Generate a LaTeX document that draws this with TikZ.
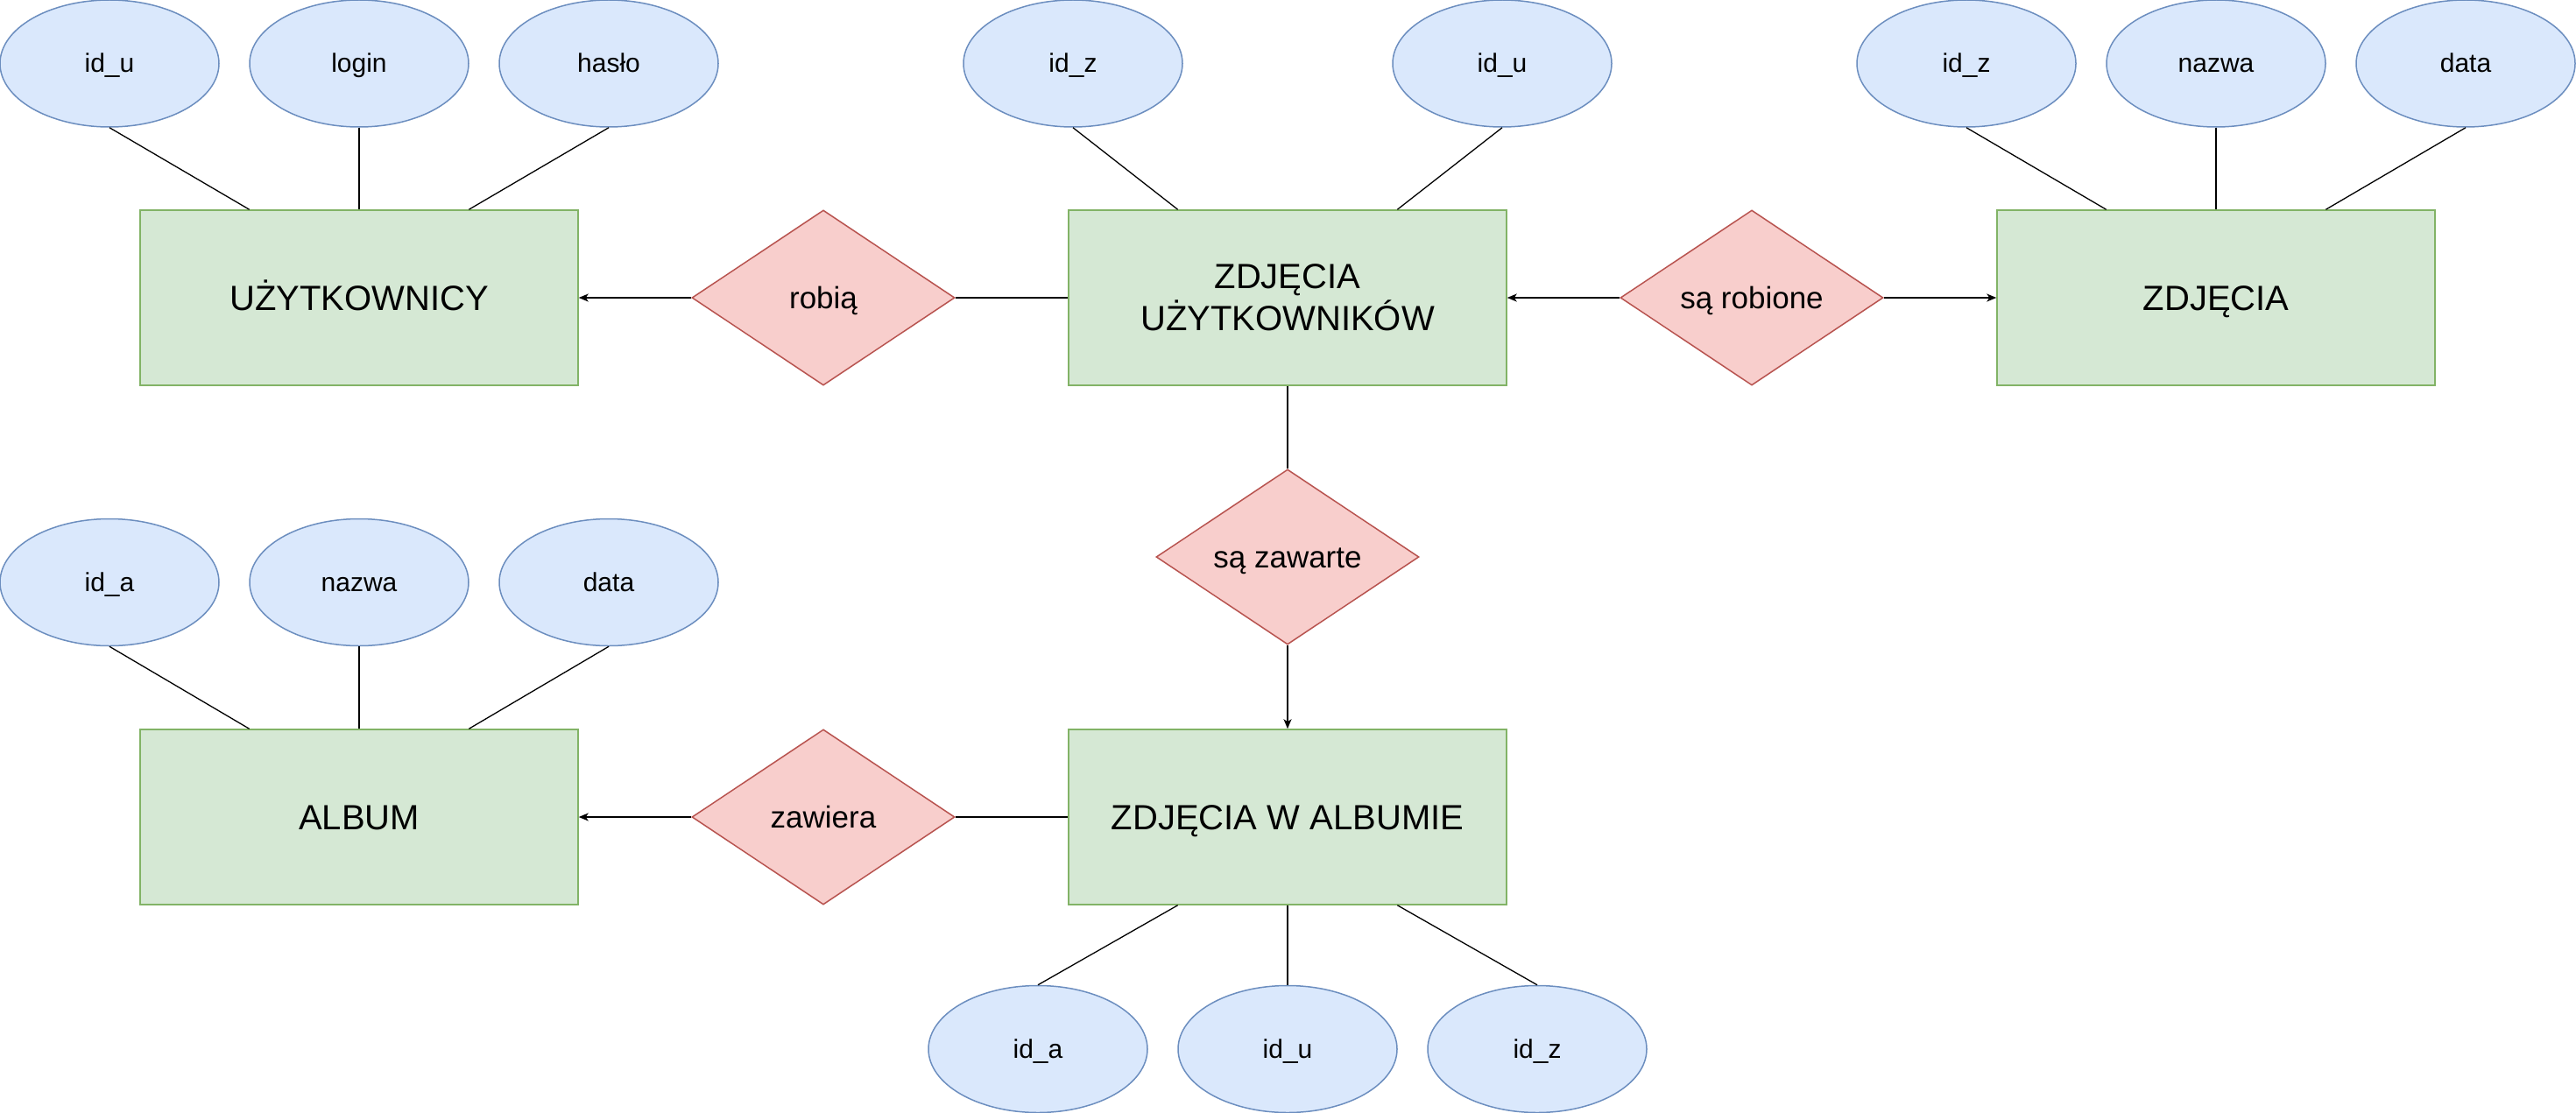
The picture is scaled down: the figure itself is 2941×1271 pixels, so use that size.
\documentclass[tikz,border=0pt]{standalone}
\usepackage{fontspec}
\setmainfont{Liberation Sans}
\usetikzlibrary{shapes.geometric,arrows.meta,calc}
\definecolor{attrfill}{HTML}{DAE8FC}
\definecolor{attrline}{HTML}{6C8EBF}
\definecolor{entfill}{HTML}{D5E8D4}
\definecolor{entline}{HTML}{82B366}
\definecolor{relfill}{HTML}{F8CECC}
\definecolor{relline}{HTML}{B85450}
\tikzset{
  oneline/.style={text height=#1, text depth=0pt},
  attr/.style={ellipse, draw=attrline, fill=attrfill, line width=1.5pt, inner sep=0pt,
    minimum width=250pt, minimum height=145pt, font=\fontsize{30}{36}\selectfont, oneline=21pt},
  entity/.style={rectangle, draw=entline, fill=entfill, line width=1.5pt, inner sep=0pt,
    minimum width=500pt, minimum height=200pt, align=center, font=\fontsize{40}{48}\selectfont},
  rel/.style={diamond, draw=relline, fill=relfill, line width=1.5pt, inner sep=0pt,
    minimum width=300pt, minimum height=200pt},
  rellabel/.style={font=\fontsize{35}{42}\selectfont, oneline=24.5pt},
  conn/.style={draw=black, line width=1.3pt},
  arr/.style={conn, -{Stealth[length=11pt,width=9pt,inset=3pt]}}
}
\begin{document}
\begin{tikzpicture}[x=1pt,y=-1pt]
\useasboundingbox (0,0) rectangle (2941,1271);
% entities
\node[entity, oneline=28pt] (uzyt) at (410,340) {UŻYTKOWNICY};
\node[entity] (zu) at (1470,340) {ZDJĘCIA\\UŻYTKOWNIKÓW};
\node[entity, oneline=28pt] (zdj) at (2530,340) {ZDJĘCIA};
\node[entity, oneline=28pt] (album) at (410,933) {ALBUM};
\node[entity, oneline=28pt] (zwa) at (1470,933) {ZDJĘCIA W ALBUMIE};
% relationships
\node[rel, label={[rellabel]center:robią}] (robia) at (940,340) {};
\node[rel, label={[rellabel]center:są robione}] (saro) at (2000,340) {};
\node[rel, label={[rellabel]center:są zawarte}] (sazaw) at (1470,636) {};
\node[rel, label={[rellabel]center:zawiera}] (zawiera) at (940,933) {};
% attributes
\node[attr] (u1) at (125,72.5) {id\_u};
\node[attr] (u2) at (410,72.5) {login};
\node[attr] (u3) at (695,72.5) {hasło};
\node[attr] (zu1) at (1225,72.5) {id\_z};
\node[attr] (zu2) at (1715,72.5) {id\_u};
\node[attr] (z1) at (2245,72.5) {id\_z};
\node[attr] (z2) at (2530,72.5) {nazwa};
\node[attr] (z3) at (2815,72.5) {data};
\node[attr] (a1) at (125,665) {id\_a};
\node[attr] (a2) at (410,665) {nazwa};
\node[attr] (a3) at (695,665) {data};
\node[attr] (w1) at (1185,1198) {id\_a};
\node[attr] (w2) at (1470,1198) {id\_u};
\node[attr] (w3) at (1755,1198) {id\_z};
% attribute connectors
\draw[conn] (u1.south) -- ($(uzyt.north west)!0.25!(uzyt.north east)$);
\draw[conn] (u2.south) -- (uzyt.north);
\draw[conn] (u3.south) -- ($(uzyt.north west)!0.75!(uzyt.north east)$);
\draw[conn] (zu1.south) -- ($(zu.north west)!0.25!(zu.north east)$);
\draw[conn] (zu2.south) -- ($(zu.north west)!0.75!(zu.north east)$);
\draw[conn] (z1.south) -- ($(zdj.north west)!0.25!(zdj.north east)$);
\draw[conn] (z2.south) -- (zdj.north);
\draw[conn] (z3.south) -- ($(zdj.north west)!0.75!(zdj.north east)$);
\draw[conn] (a1.south) -- ($(album.north west)!0.25!(album.north east)$);
\draw[conn] (a2.south) -- (album.north);
\draw[conn] (a3.south) -- ($(album.north west)!0.75!(album.north east)$);
\draw[conn] (w1.north) -- ($(zwa.south west)!0.25!(zwa.south east)$);
\draw[conn] (w2.north) -- (zwa.south);
\draw[conn] (w3.north) -- ($(zwa.south west)!0.75!(zwa.south east)$);
% relationship connectors
\draw[arr] (robia.west) -- (uzyt.east);
\draw[conn] (robia.east) -- (zu.west);
\draw[arr] (saro.west) -- (zu.east);
\draw[arr] (saro.east) -- (zdj.west);
\draw[conn] (zu.south) -- (sazaw.north);
\draw[arr] (sazaw.south) -- (zwa.north);
\draw[arr] (zawiera.west) -- (album.east);
\draw[conn] (zawiera.east) -- (zwa.west);
\end{tikzpicture}
\end{document}
